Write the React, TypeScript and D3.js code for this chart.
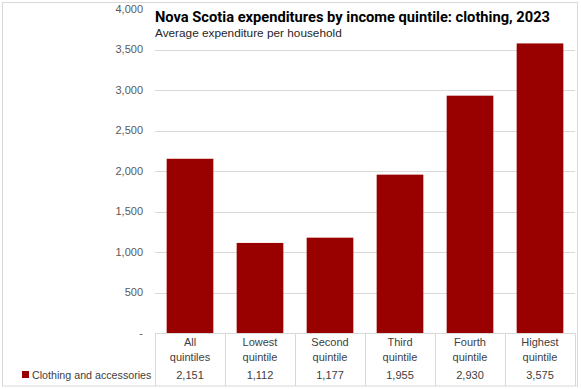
import React from "react";
import * as d3 from "d3";

const categories: string[][] = [
  ["All", "quintiles"],
  ["Lowest", "quintile"],
  ["Second", "quintile"],
  ["Third", "quintile"],
  ["Fourth", "quintile"],
  ["Highest", "quintile"],
];
const values: number[] = [2151, 1112, 1177, 1955, 2930, 3575];
const yTicks: number[] = [0, 500, 1000, 1500, 2000, 2500, 3000, 3500, 4000];
const seriesName = "Clothing and accessories";
const title = "Nova Scotia expenditures by income quintile: clothing, 2023";
const subtitle = "Average expenditure per household";

const W = 581;
const H = 389;
const left = 155;
const right = 575;
const top = 9;
const bottom = 333;
const FONT = "'Liberation Sans', Arial, sans-serif";
const BAR = "#990000";

export default function App() {
  const x = d3
    .scaleBand<number>()
    .domain(d3.range(values.length))
    .range([left, right])
    .paddingInner(0)
    .paddingOuter(0);
  const y = d3.scaleLinear().domain([0, 4000]).range([bottom, top]);
  const bw = x.bandwidth();
  const barW = bw / 1.5;
  const fmt = d3.format(",");

  return (
    <svg
      width={W}
      height={H}
      style={{ position: "absolute", left: 0, top: 0, background: "#fff" }}
      fontFamily={FONT}
    >
      <rect x={0} y={0} width={W} height={H} fill="#fff" />
      {yTicks.slice(1).map((t) => (
        <line
          key={"g" + t}
          x1={left}
          x2={right}
          y1={Math.round(y(t)) + 0.5}
          y2={Math.round(y(t)) + 0.5}
          stroke="#d9d9d9"
          strokeWidth={1}
        />
      ))}
      {yTicks.map((t) => (
        <text
          key={"t" + t}
          x={143}
          y={y(t)}
          dy="0.35em"
          textAnchor="end"
          fontSize={11}
          fill="#595959"
        >
          {t === 0 ? "-" : fmt(t)}
        </text>
      ))}
      {values.map((v, i) => (
        <rect
          key={"b" + i}
          x={(x(i) as number) + (bw - barW) / 2}
          y={y(v)}
          width={barW}
          height={y(0) - y(v)}
          fill={BAR}
        />
      ))}
      <rect x={150} y={3} width={426} height={40} fill="#fff" />
      <text
        x={155}
        y={22}
        fontSize={14.5}
        fontWeight="bold"
        fill="#000"
        fontFamily="Roboto, 'Liberation Sans', sans-serif"
        textLength={395}
        lengthAdjust="spacingAndGlyphs"
      >
        {title}
      </text>
      <text x={155} y={37} fontSize={11.8} fill="#262626">
        {subtitle}
      </text>
      <line x1={left} x2={right} y1={bottom + 0.5} y2={bottom + 0.5} stroke="#d9d9d9" />
      {d3.range(values.length + 1).map((i) => {
        const xx = i < values.length ? (x(i) as number) : right;
        return (
          <line
            key={"v" + i}
            x1={Math.round(xx) + 0.5}
            x2={Math.round(xx) + 0.5}
            y1={bottom}
            y2={386}
            stroke="#d9d9d9"
          />
        );
      })}
      {categories.map((c, i) => (
        <g key={"c" + i}>
          <text x={(x(i) as number) + bw / 2} y={346} textAnchor="middle" fontSize={11} fill="#404040">
            {c[0]}
          </text>
          <text x={(x(i) as number) + bw / 2} y={361} textAnchor="middle" fontSize={11} fill="#404040">
            {c[1]}
          </text>
          <text x={(x(i) as number) + bw / 2} y={379} textAnchor="middle" fontSize={11} fill="#404040">
            {fmt(values[i])}
          </text>
        </g>
      ))}
      <rect x={22} y={371} width={7} height={7} fill={BAR} />
      <text x={32} y={379} fontSize={10.7} fill="#404040">
        {seriesName}
      </text>
      <rect x={2.5} y={2.5} width={575} height={383.5} fill="none" stroke="#d9d9d9" />
    </svg>
  );
}
